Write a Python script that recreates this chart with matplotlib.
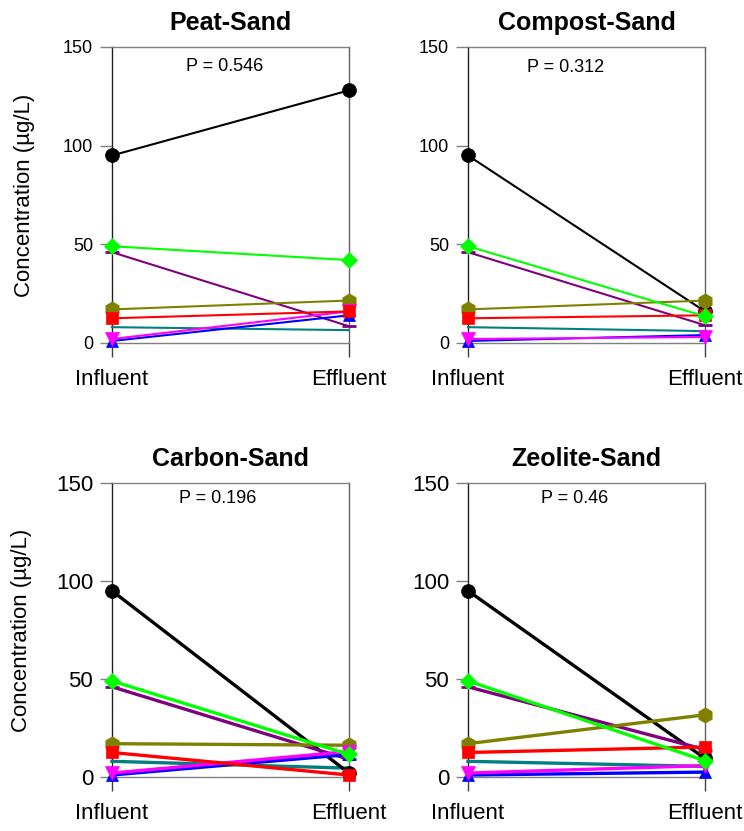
import matplotlib
matplotlib.use("Agg")
import matplotlib.pyplot as plt

plt.rcParams['font.family'] = ['Liberation Sans', 'DejaVu Sans']

stages = ["Influent", "Effluent"]
panels = ["Peat-Sand", "Compost-Sand", "Carbon-Sand", "Zeolite-Sand"]
p_values = ["P = 0.546", "P = 0.312", "P = 0.196", "P = 0.46"]

# influent concentration for each compound (same feed for every column)
influent = [95, 49, 46, 17, 12.5, 8, 1, 2]

# effluent concentration per media column, same compound order as influent
effluent_peat = [128, 42, 8.5, 21.5, 16, 6.5, 14, 16]
effluent_compost = [16, 13.5, 9, 21.5, 14, 6, 4, 3]
effluent_carbon = [2, 11.5, 9, 16.2, 1, 4.5, 11.5, 13]
effluent_zeolite = [9.5, 8.3, 14, 31.7, 15.3, 5.4, 2.5, 5.8]

effluents = [effluent_peat, effluent_compost, effluent_carbon, effluent_zeolite]

colors = ["#000000", "#00FF00", "#800080", "#808000", "#FF0000", "#008080", "#0000FF", "#FF00FF"]
markers = ["o", "D", "_", "h", "s", "None", "^", "v"]
msizes = [10, 8.5, 10, 11, 8.5, 0, 8.5, 9.5]
zorders = [4, 8, 5, 6, 7, 3, 5, 6]

fig = plt.figure(figsize=(7.44, 8.31), dpi=100)

positions = [
    [0.1505, 0.5873, 0.3185, 0.3562],
    [0.629, 0.5873, 0.3185, 0.3562],
    [0.1505, 0.065, 0.3185, 0.3538],
    [0.629, 0.065, 0.3185, 0.3538],
]
p_pos = [(0.477, 0.933), (0.41, 0.932), (0.447, 0.946), (0.45, 0.946)]

for i, (title, pv, eff, pos) in enumerate(zip(panels, p_values, effluents, positions)):
    ax = fig.add_axes(pos)
    bottom = i >= 2
    lw = 2.4 if bottom else 1.5
    for j in range(len(influent)):
        ax.plot([0, 1], [influent[j], eff[j]], color=colors[j], lw=lw,
                marker=markers[j], markersize=msizes[j], markeredgewidth=2 if markers[j] == "_" else 0.5,
                markeredgecolor=colors[j], clip_on=False, zorder=zorders[j])
    ax.set_xlim(0, 1)
    ax.set_ylim(0, 150)
    ax.set_xticks([0, 1])
    ax.set_xticklabels(stages, fontsize=16)
    ax.set_yticks([0, 50, 100, 150])
    ax.tick_params(axis='x', direction='out', length=10, width=1, pad=9, colors='#404040',
                   labelcolor='black')
    ax.tick_params(axis='y', direction='out', length=8.6, width=1, pad=5, colors='#808080',
                   labelcolor='black', labelsize=16 if bottom else 13)
    ax.spines['left'].set_color('#202020')
    ax.spines['right'].set_color('#606060')
    ax.spines['top'].set_color('#808080')
    ax.spines['bottom'].set_color('#808080')
    for s in ax.spines.values():
        s.set_linewidth(1)
    ax.set_title(title, fontsize=18, fontweight='bold', pad=12)
    ax.text(p_pos[i][0], p_pos[i][1], pv, transform=ax.transAxes, ha='center', va='center',
            fontsize=13)
    if i % 2 == 0:
        ax.set_ylabel("Concentration (µg/L)", fontsize=16, labelpad=20 if not bottom else 17)

fig.savefig("out.png", dpi=100)
